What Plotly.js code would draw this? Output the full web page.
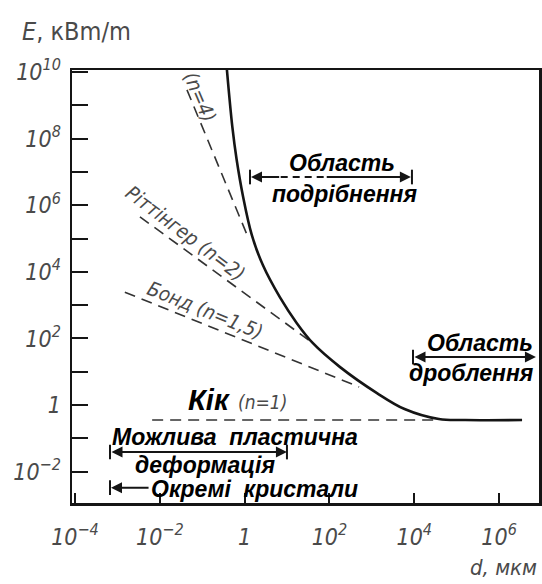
<!DOCTYPE html>
<html><head><meta charset="utf-8">
<script src="https://cdn.plot.ly/plotly-3.0.1.min.js"></script>
<style>html,body{margin:0;padding:0;background:#fff}#chart{width:542px;height:584px}</style>
</head><body><div id="chart"></div>
<script>
// Main (solid) energy-size curve
const curveD = [0.38, 0.513, 0.646, 0.912, 1.48, 2.69, 6.76, 17, 40.7, 178, 1318, 5890, 38000, 158000, 3470000];
const curveE = [1.26e10, 2.24e8, 2.4e7, 1.9e6, 1.26e5, 1.6e4, 1740, 288, 72, 13.8, 2.29, 0.76, 0.38, 0.355, 0.355];
// Dashed laws
const n4D = [0.0437, 1.26];            const n4E = [2.9e9, 9.5e4];
const rittD = [0.0034, 40.7];          const rittE = [4.5e5, 72];
const bondD = [0.0015, 500];           const bondE = [2450, 3.5];
const kickD = [0.0066, 38000];         const kickE = [0.355, 0.355];
// Ticks
const xTickVals = [1e-4, 1e-2, 1, 1e2, 1e4, 1e6];
const xTickText = ['<i>10<sup>−4</sup></i>', '<i>10<sup>−2</sup></i>', '<i>1</i>', '<i>10<sup>2</sup></i>', '<i>10<sup>4</sup></i>', '<i>10<sup>6</sup></i>'];
const yTickVals = [1e-2, 1, 1e2, 1e4, 1e6, 1e8, 1e10];
const yTickText = ['<i>10<sup>−2</sup></i>', '<i>1</i>', '<i>10<sup>2</sup></i>', '<i>10<sup>4</sup></i>', '<i>10<sup>6</sup></i>', '<i>10<sup>8</sup></i>', '<i>10<sup>10</sup></i>'];
const yMinorVals = [1e-1, 1e1, 1e3, 1e5, 1e7, 1e9];

const ink = '#151515';
const gray = '#4a4a4a';
const narrow = 'DejaVu Sans Condensed, Liberation Sans Narrow, sans-serif';
const boldF = {family: 'Liberation Sans, Arial, sans-serif', size: 23, color: '#000', weight: 'bold', style: 'italic'};

const dashLine = {color: '#333', width: 1.6, dash: '11px,7px'};
const traces = [
  {x: kickD, y: kickE, mode: 'lines', line: dashLine, hoverinfo: 'skip'},
  {x: bondD, y: bondE, mode: 'lines', line: dashLine, hoverinfo: 'skip'},
  {x: rittD, y: rittE, mode: 'lines', line: dashLine, hoverinfo: 'skip'},
  {x: n4D, y: n4E, mode: 'lines', line: dashLine, hoverinfo: 'skip'},
  {x: curveD, y: curveE, mode: 'lines', line: {color: ink, width: 2.6, shape: 'spline', smoothing: 1}, hoverinfo: 'skip'}
];

const P = v => Math.pow(10, v);
function bar(x, y) {
  return {type: 'line', xref: 'x', yref: 'y', x0: P(x), x1: P(x), y0: P(y - 0.22), y1: P(y + 0.22), line: {color: ink, width: 2}};
}
function arrow(xHead, xTail, y, side) {
  return {x: xHead, y: y, ax: xTail, ay: y, xref: 'x', yref: 'y', axref: 'x', ayref: 'y', text: '',
    showarrow: true, arrowhead: 2, arrowsize: 1.1, arrowwidth: 2, arrowcolor: ink, arrowside: side || 'end'};
}
function txt(x, y, text, font, angle) {
  return {x: x, y: y, xref: 'x', yref: 'y', text: text, showarrow: false, font: font, textangle: angle || 0};
}
const labelF = {family: narrow, size: 20, color: gray, style: 'italic'};

const layout = {
  width: 542, height: 584,
  margin: {l: 72, r: 3, t: 70, b: 81},
  paper_bgcolor: '#fff', plot_bgcolor: '#fff',
  showlegend: false,
  xaxis: {type: 'log', range: [-4.07, 6.94], showgrid: false, zeroline: false,
    showline: true, mirror: true, linecolor: ink, linewidth: 2.5,
    ticks: 'inside', ticklen: 10, tickwidth: 2, tickcolor: ink,
    tickmode: 'array', tickvals: xTickVals, ticktext: xTickText, ticklabelstandoff: 12,
    tickfont: {family: narrow, size: 23, color: gray}},
  yaxis: {type: 'log', range: [-2.94, 10.06], showgrid: false, zeroline: false,
    showline: true, mirror: true, linecolor: ink, linewidth: 2.5,
    ticks: 'inside', ticklen: 16, tickwidth: 2, tickcolor: ink,
    tickmode: 'array', tickvals: yTickVals, ticktext: yTickText, ticklabelstandoff: 4,
    minor: {tickmode: 'array', tickvals: yMinorVals, ticks: 'inside', ticklen: 16, tickwidth: 2, tickcolor: ink, showgrid: false},
    tickfont: {family: narrow, size: 23, color: gray}},
  shapes: [
    bar(0.126, 6.847), bar(3.945, 6.847),
    {type: 'line', xref: 'x', yref: 'y', x0: P(0.85), x1: P(1.9), y0: P(6.847), y1: P(6.847), line: {color: ink, width: 2, dash: '7px,5px'}},
    bar(3.969, 1.441),
    bar(-3.174, -1.41), bar(0.998, -1.41),
    bar(-3.174, -2.48)
  ],
  annotations: [
    {xref: 'paper', yref: 'paper', x: -0.111, y: 1.088, xanchor: 'left', yanchor: 'middle', showarrow: false,
      text: '<i>E</i>, кBm/m', font: {family: narrow, size: 25, color: gray}},
    {xref: 'paper', yref: 'paper', x: 1.0, y: -0.148, xanchor: 'right', yanchor: 'middle', showarrow: false,
      text: '<i>d, мкм</i>', font: {family: narrow, size: 22, color: gray}},
    txt(-1.053, 9.25, '(n=4)', labelF, 67),
    txt(-1.40, 5.17, 'Ріттінгер (n=2)', labelF, 37),
    txt(-0.935, 2.85, 'Бонд (n=1,5)', labelF, 22),
    txt(-0.84, 0.15, 'Кік', {family: 'Liberation Sans, Arial, sans-serif', size: 29, color: '#000', weight: 'bold', style: 'italic'}),
    txt(0.41, 0.09, '(n=1)', {family: narrow, size: 19, color: gray, style: 'italic'}),
    txt(2.295, 7.27, 'Область', boldF),
    txt(2.366, 6.336, 'подрібнення', boldF),
    txt(5.548, 1.862, 'Область', boldF),
    txt(5.36, 0.961, 'дроблення', boldF),
    txt(-0.227, -0.97, 'Можлива&nbsp;&nbsp;пластична', boldF),
    txt(-0.935, -1.81, 'деформація', boldF),
    txt(0.244, -2.53, 'Окремі&nbsp;&nbsp;кристали', boldF),
    arrow(0.15, 0.85, 6.847),
    arrow(3.92, 1.9, 6.847),
    arrow(6.868, 3.969, 1.441, 'end+start'),
    arrow(0.998, -3.174, -1.41, 'end+start'),
    arrow(-3.15, -2.23, -2.48)
  ]
};
Plotly.newPlot('chart', traces, layout, {staticPlot: true, displayModeBar: false});
</script></body></html>
